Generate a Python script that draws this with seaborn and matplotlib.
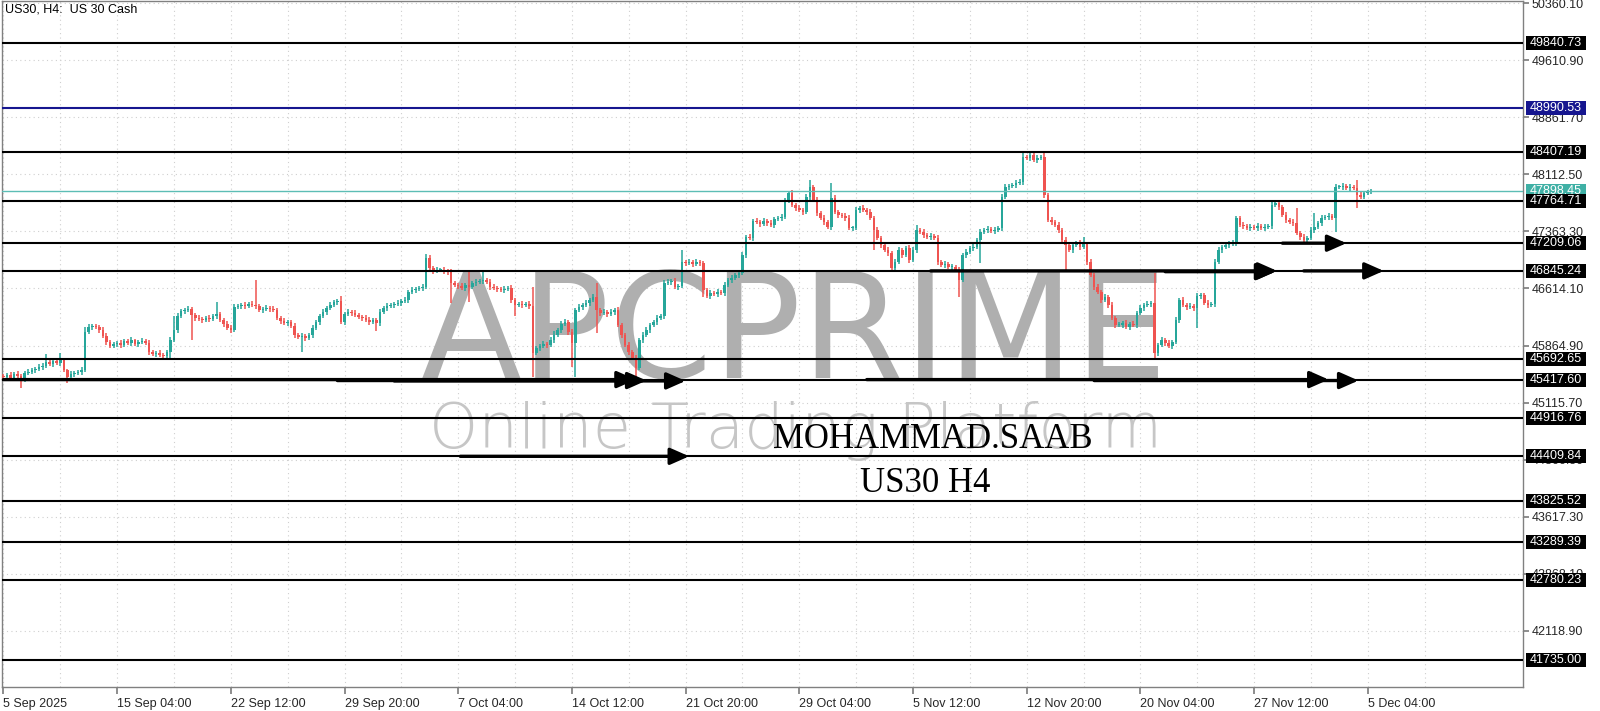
import numpy as np
import pandas as pd
import matplotlib
matplotlib.use("Agg")
import matplotlib.pyplot as plt
import matplotlib.transforms as mtransforms
from matplotlib.patches import Rectangle
import seaborn as sns

# ---------------- data ----------------
first_open = 45465
closes = [
    45451,45478,45438,45491,45465,45425,45504,45517,45543,45557,45583,45596,45648,45622,45662,45635,45675,45543,45451,45491,
    45504,45517,45543,46043,46108,46121,46108,46069,45990,45911,45859,45885,45898,45872,45924,45898,45937,45885,45911,45924,
    45898,45780,45754,45767,45740,45727,45780,45937,46069,46253,46318,46331,46345,46266,46226,46213,46200,46226,46213,46253,
    46279,46200,46148,46095,46069,46371,46384,46397,46384,46410,46397,46384,46331,46345,46358,46345,46331,46226,46187,46161,
    46174,46121,46003,45977,45990,45964,46003,46095,46174,46253,46305,46358,46397,46437,46450,46174,46279,46305,46292,46266,
    46240,46226,46200,46174,46200,46161,46305,46358,46384,46397,46410,46423,46450,46463,46568,46594,46607,46620,46634,47014,
    46883,46844,46857,46857,46844,46831,46686,46660,46647,46620,46660,46634,46686,46699,46712,46725,46699,46634,46620,46607,
    46594,46607,46620,46463,46397,46410,46397,46410,46384,45767,45832,45859,45885,45872,45937,46003,46069,46148,46174,46043,
    45898,46331,46371,46397,46423,46463,46502,46331,46292,46305,46279,46305,46331,46134,46003,45872,45780,45701,45570,45937,
    46003,46069,46134,46174,46226,46253,46686,46699,46712,46634,46647,46962,46949,46962,46936,46962,46949,46594,46515,46555,
    46542,46568,46555,46660,46725,46752,46791,46817,47054,47290,47277,47500,47487,47461,47500,47474,47448,47527,47540,47553,
    47776,47868,47711,47671,47645,47619,47816,47947,47776,47605,47540,47487,47422,47802,47619,47579,47566,47540,47408,47408,
    47645,47671,47645,47619,47540,47382,47277,47185,47119,47080,46883,46962,47119,47054,47146,46988,47119,47382,47356,47317,
    47290,47303,47277,46962,46922,46936,46896,46896,46857,46725,47054,47093,47146,47159,47251,47356,47382,47395,47369,47382,
    47408,47816,47947,47960,47973,47999,48013,48341,48328,48367,48302,48328,48341,47842,47514,47487,47448,47382,47251,47185,
    47119,47185,47211,47159,47198,46962,46791,46634,46568,46463,46502,46397,46226,46134,46134,46161,46108,46148,46134,46292,
    46358,46397,46410,46423,45767,45872,45937,45898,45859,45911,46200,46463,46397,46371,46384,46358,46515,46528,46423,46397,
    46410,46962,47119,47159,47185,47198,47211,47540,47448,47435,47408,47422,47408,47435,47408,47422,47435,47711,47737,47684,
    47579,47514,47487,47474,47343,47290,47251,47277,47382,47422,47474,47540,47553,47566,47540,47947,47947,47960,47934,47947,
    47934,47842,47816,47868,47881,47898,
]
wick_up = [
    30,25,40,20,35,30,25,45,30,20,35,40,110,30,25,40,90,30,20,35,
    25,30,40,60,35,25,30,20,35,40,25,30,20,45,30,25,35,20,30,40,
    25,35,30,20,40,25,30,35,190,40,30,25,45,30,20,35,30,25,40,30,
    160,30,25,35,40,45,30,25,35,30,40,330,25,30,35,20,40,30,25,35,
    30,25,40,30,35,25,30,40,30,25,35,30,45,30,25,60,30,35,25,40,
    30,25,35,40,30,25,35,30,40,25,30,35,25,40,30,35,25,30,40,50,
    40,30,35,25,40,30,35,30,25,40,30,170,30,35,25,120,30,40,35,25,
    30,40,25,35,30,25,40,30,35,250,30,25,40,30,35,50,30,40,45,30,
    35,30,40,25,35,30,45,184,30,35,25,40,30,35,30,25,40,30,35,30,
    40,35,30,25,40,30,45,35,30,40,25,157,30,35,25,40,30,30,25,35,
    30,40,25,35,30,40,25,30,35,27,40,30,35,25,40,30,35,25,30,40,
    30,13,35,30,40,25,35,92,30,35,25,40,30,197,35,30,25,40,35,30,
    40,30,35,25,40,30,35,30,25,40,30,35,40,25,30,35,40,66,30,35,
    25,40,30,35,25,40,30,35,25,40,30,35,25,40,30,35,25,40,30,35,
    30,40,35,25,30,40,35,79,30,40,25,35,30,60,30,35,25,40,30,35,
    30,35,25,40,92,30,35,25,40,30,35,25,40,30,35,25,40,30,35,30,
    40,30,35,25,394,30,40,25,35,30,40,30,35,25,40,30,35,25,30,40,
    30,40,35,25,30,40,35,30,25,40,30,35,25,40,30,35,25,40,30,35,
    30,40,25,35,197,30,40,25,35,183,30,35,25,40,30,35,25,40,30,35,
    30,105,35,25,30,20,
]
wick_dn = [
    35,30,25,40,30,120,35,25,30,40,25,35,30,25,40,30,35,25,80,30,
    40,25,35,30,25,40,30,35,25,40,30,25,35,40,30,25,40,30,35,25,
    30,40,25,35,30,40,25,100,30,35,25,40,30,330,35,25,40,30,35,25,
    40,30,35,25,40,30,25,35,40,30,25,35,30,40,25,35,30,25,40,30,
    35,25,40,30,200,35,25,40,30,35,25,40,30,25,35,30,40,25,35,30,
    25,40,30,35,25,100,40,30,35,25,40,30,35,25,40,30,35,25,40,30,
    35,40,25,30,35,40,260,30,35,25,40,200,30,35,25,40,30,35,25,40,
    30,35,25,40,140,30,35,25,40,316,30,35,25,40,30,35,25,40,30,35,
    315,447,30,35,25,40,30,300,35,25,40,30,35,25,40,30,35,25,120,30,
    35,25,40,30,35,25,40,30,35,25,40,30,35,25,40,30,35,92,30,35,
    25,40,30,35,25,40,30,35,25,40,30,35,25,40,30,35,25,40,30,35,
    25,40,30,35,25,40,30,35,25,40,30,35,25,40,30,35,25,40,30,35,
    25,40,30,35,25,263,30,35,25,40,30,35,25,40,30,35,25,40,30,35,
    25,40,30,35,25,40,30,35,25,223,30,35,25,40,30,302,25,40,30,35,
    25,40,30,35,25,40,30,35,25,40,30,35,25,40,30,35,25,40,30,328,
    25,40,30,35,25,40,30,35,25,40,30,35,25,40,30,35,25,40,30,35,
    25,40,30,35,66,40,30,35,25,40,30,35,25,40,30,35,263,40,30,35,
    25,40,30,35,25,40,30,35,25,40,30,35,25,40,30,35,25,40,30,35,
    25,40,30,35,25,40,30,35,25,40,30,35,25,40,30,184,25,40,30,35,
    25,171,30,25,30,20,
]

date_labels = ["5 Sep 2025", "15 Sep 04:00", "22 Sep 12:00", "29 Sep 20:00", "7 Oct 04:00",
               "14 Oct 12:00", "21 Oct 20:00", "29 Oct 04:00", "5 Nov 12:00", "12 Nov 20:00",
               "20 Nov 04:00", "27 Nov 12:00", "5 Dec 04:00"]
bars_per_label = 32

price_ticks = [50360.10, 49610.90, 48861.70, 48112.50, 47363.30, 46614.10, 45864.90,
               45115.70, 44366.50, 43617.30, 42868.10, 42118.90]

black_levels = [49840.73, 48407.19, 47764.71, 47209.06, 46845.24, 45692.65, 45417.60,
                44916.76, 44409.84, 43825.52, 43289.39, 42780.23, 41735.00]
blue_level = 48990.53
current_price = 47898.45

arrow_level = [45417.60, 45405.0, 45400.0, 45417.60, 45405.0, 46845.24, 46835.0, 46845.24, 47209.06, 44409.84]
arrow_from  = [0, 94, 110, 243, 307, 261, 327, 366, 360, 128.6]
arrow_to    = [178, 181, 192, 373, 381.4, 358.5, 358, 388.5, 378, 193]

# ---------------- build table ----------------
n = len(closes)
opens = [first_open] + closes[:-1]
df = pd.DataFrame({"bar": np.arange(n), "open": opens, "close": closes,
                   "wu": wick_up[:n], "wd": wick_dn[:n]})
df["top"] = df[["open", "close"]].max(axis=1)
df["bot"] = df[["open", "close"]].min(axis=1)
df["high"] = df["top"] + df["wu"]
df["low"] = df["bot"] - df["wd"]
df["up"] = df["close"] >= df["open"]

# ---------------- style ----------------
sns.set_theme(style="white")
plt.rcParams["font.family"] = ["Liberation Sans", "DejaVu Sans"]

UP = "#26a69a"
DN = "#ef5350"
GRID = "#cfcfcf"
FRAME = "#808080"

fig = plt.figure(figsize=(16, 7.11), dpi=100)
fig.patch.set_facecolor("white")
ax = fig.add_axes([2/1600, 24/711, 1521/1600, 686/711])
ax.set_facecolor("white")
ax.set_xlim(-0.4, 427.7)
ax.set_ylim(41380, 50390)

for s in ax.spines.values():
    s.set_color(FRAME)
    s.set_linewidth(1.0)

# ticks
xt = [i * bars_per_label for i in range(len(date_labels))]
ax.set_xticks(xt)
ax.set_xticklabels(date_labels)
ax.set_xticks([i * 16 for i in range(1, 27) if i % 2 == 1], minor=True)
for lbl in ax.get_xticklabels():
    lbl.set_ha("left")
ax.tick_params(axis="x", which="major", direction="out", length=5, color=FRAME,
               labelsize=9, pad=3, bottom=True)
ax.tick_params(axis="x", which="minor", length=0)

ax.yaxis.tick_right()
ax.set_yticks(price_ticks)
ax.set_yticklabels([f"{v:.2f}" for v in price_ticks])
ax.tick_params(axis="y", direction="out", length=4, color=FRAME, labelsize=9, pad=2, right=True)

ax.grid(True, axis="y", which="major", ls=(0, (1, 3)), color=GRID, lw=0.8)
ax.grid(True, axis="x", which="both", ls=(0, (1, 3)), color=GRID, lw=0.8)
ax.set_axisbelow(True)

# watermark (behind everything)
ax.text(795/1600, 1 - 378/711, "APCPRIME", transform=fig.transFigure, ha="center", va="baseline",
        fontsize=106, color="#afafaf", family="DejaVu Sans", zorder=0.6)
ax.text(796/1600, 1 - 448/711, "Online Trading Platform", transform=fig.transFigure, ha="center",
        va="baseline", fontsize=45, color="#c6c6c6", family="DejaVu Sans", fontweight="light",
        zorder=0.6)

# candles
cols = np.where(df["up"], UP, DN)
ax.vlines(df["bar"], df["low"], df["high"], colors=cols, lw=1.1, zorder=3)
heights = np.maximum(df["top"] - df["bot"], 9)
ax.bar(df["bar"], heights, bottom=df["bot"], width=0.72, color=cols, linewidth=0, zorder=3.5)

# horizontal levels
ax.axhline(current_price, color="#5cbdb5", lw=1.0, zorder=4)
ax.axhline(blue_level, color="#16168f", lw=1.5, zorder=4)
for v in black_levels:
    ax.axhline(v, color="black", lw=1.5, zorder=4)

# arrows
for lv, a, b in zip(arrow_level, arrow_from, arrow_to):
    ax.annotate("", xy=(b, lv), xytext=(a, lv),
                arrowprops=dict(arrowstyle="-|>,head_length=0.95,head_width=0.42",
                                mutation_scale=12, lw=2.4, color="black",
                                shrinkA=0, shrinkB=0),
                zorder=5, annotation_clip=False)

# signature text
ax.text(933/1600, 1 - 448/711, "MOHAMMAD.SAAB", transform=fig.transFigure, ha="center",
        va="baseline", fontsize=25, color="black", family="Liberation Serif", zorder=6)
ax.text(925/1600, 1 - 492/711, "US30 H4", transform=fig.transFigure, ha="center",
        va="baseline", fontsize=25, color="black", family="Liberation Serif", zorder=6)

# symbol caption
fig.text(5/1600, 1 - 3/711, "US30, H4:  US 30 Cash", ha="left", va="top", fontsize=9, color="black")

# price boxes on the right axis
tr = mtransforms.blended_transform_factory(ax.transAxes, ax.transData)
px_price = (50390 - 41380) / 686.0
box_h = 14 * px_price
box_x0 = 1 + 2.5 / 1521
box_w = 61 / 1521
boxes = [(current_price, "#3fb0a5")] + [(blue_level, "#16168f")] + [(v, "black") for v in black_levels]
for v, fc in boxes:
    ax.add_patch(Rectangle((box_x0, v - box_h / 2), box_w, box_h, transform=tr,
                           facecolor=fc, edgecolor="none", clip_on=False, zorder=10))
    ax.text(box_x0 + 4 / 1521, v, f"{v:.2f}", transform=tr, ha="left", va="center",
            fontsize=9, color="white", clip_on=False, zorder=11)

fig.savefig("out.png", dpi=100, facecolor="white")
